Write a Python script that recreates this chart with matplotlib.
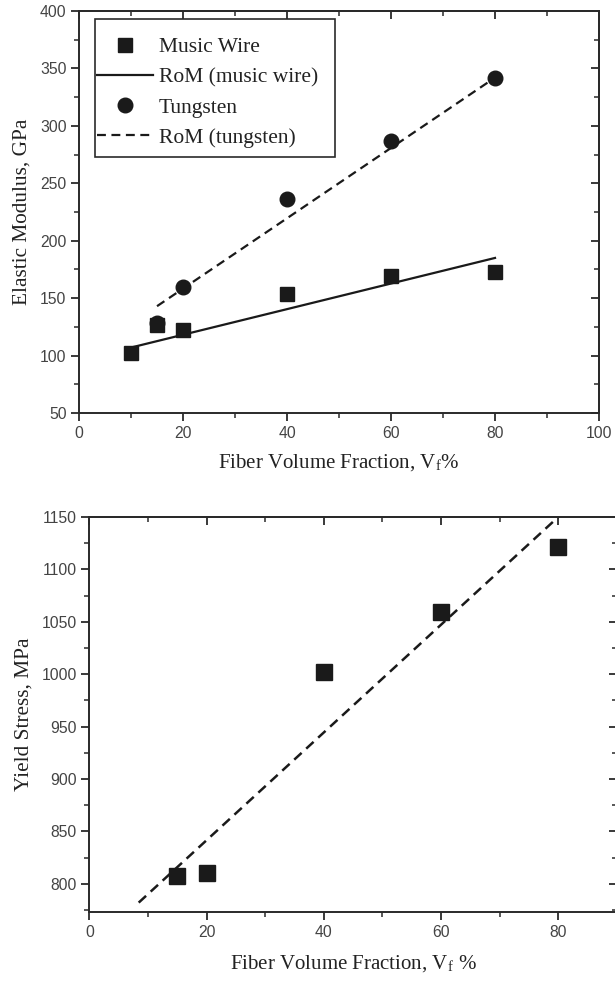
import matplotlib
matplotlib.use("Agg")
import matplotlib.pyplot as plt
from matplotlib.patches import Rectangle
from matplotlib.ticker import MultipleLocator

plt.rcParams['font.family'] = ['Liberation Serif', 'DejaVu Serif']
plt.rcParams['mathtext.fontset'] = 'stix'

# top panel: elastic modulus
vf_wire = [10, 15, 20, 40, 60, 80]
e_wire = [102, 127, 122, 154, 169, 173]
vf_w = [15, 20, 40, 60, 80]
e_w = [128, 160, 236, 287, 342]
rom_wire_x = [10, 80]
rom_wire_y = [107, 185]
rom_w_x = [15, 80]
rom_w_y = [143, 342]

# bottom panel: yield stress
vf_ys = [15, 20, 40, 60, 80]
ys = [807, 810, 1002, 1059, 1121]
rom_ys_x = [8.4, 80]
rom_ys_y = [782, 1150]

ink = '#1a1a1a'
tick_font = dict(family='Liberation Sans', size=11.3, color='#444444')


def style_axes(ax, xmaj, xmin, ymaj, ymin):
    for s in ax.spines.values():
        s.set_linewidth(1.4)
        s.set_color('#2a2a2a')
    ax.xaxis.set_major_locator(MultipleLocator(xmaj))
    ax.xaxis.set_minor_locator(MultipleLocator(xmin))
    ax.yaxis.set_major_locator(MultipleLocator(ymaj))
    ax.yaxis.set_minor_locator(MultipleLocator(ymin))
    ax.tick_params(which='major', direction='out', length=6, width=1.3, color='#2a2a2a', pad=3)
    ax.tick_params(which='minor', direction='out', length=3.5, width=1.1, color='#2a2a2a')
    for lab in ax.get_xticklabels() + ax.get_yticklabels():
        lab.set_fontfamily(tick_font['family'])
        lab.set_fontsize(tick_font['size'])
        lab.set_color(tick_font['color'])
    # mirrored inward ticks on top and right
    top = ax.secondary_xaxis('top')
    right = ax.secondary_yaxis('right')
    top.xaxis.set_major_locator(MultipleLocator(xmaj))
    top.xaxis.set_minor_locator(MultipleLocator(xmin))
    right.yaxis.set_major_locator(MultipleLocator(ymaj))
    right.yaxis.set_minor_locator(MultipleLocator(ymin))
    for sec in (top, right):
        sec.tick_params(which='major', direction='in', length=6, width=1.3, color='#2a2a2a')
        sec.tick_params(which='minor', direction='in', length=3.5, width=1.1, color='#2a2a2a')
        sec.tick_params(labeltop=False, labelright=False)
        for s in sec.spines.values():
            s.set_linewidth(1.4)
            s.set_color('#2a2a2a')


fig = plt.figure(figsize=(6.15, 9.81), dpi=100)

ax1 = fig.add_axes([0.1285, 0.579, 0.8455, 0.4098])
ax1.plot(rom_wire_x, rom_wire_y, '-', color=ink, lw=1.6, label='RoM (music wire)')
ax1.plot(rom_w_x, rom_w_y, '--', color=ink, lw=1.6, dashes=(4, 2.5), label='RoM (tungsten)')
ax1.plot(vf_wire, e_wire, 's', color=ink, ms=9.5, ls='none', label='Music Wire')
ax1.plot(vf_w, e_w, 'o', color=ink, ms=10.5, ls='none', label='Tungsten')
ax1.set_xlim(0, 100)
ax1.set_ylim(50, 400)
style_axes(ax1, 20, 10, 50, 25)
ax1.set_xlabel('Fiber Volume Fraction, V$_\\mathregular{f}$%', fontsize=15, color='#222222', labelpad=8)
ax1.set_ylabel('Elastic Modulus, GPa', fontsize=15.3, color='#222222', labelpad=6)

# legend without its own frame; the box is drawn separately
h, l = ax1.get_legend_handles_labels()
order = [2, 0, 3, 1]
leg = ax1.legend([h[i] for i in order], [l[i] for i in order], loc='upper left',
                 bbox_to_anchor=(0.034, 0.935), fontsize=15.5, frameon=False,
                 handlelength=2.6, handletextpad=0.28,
                 borderpad=0, labelspacing=0.47, borderaxespad=0)
for t in leg.get_texts():
    t.set_color('#222222')
ax1.add_patch(Rectangle((0.0308, 0.637), 0.461, 0.343, transform=ax1.transAxes,
                        fill=False, edgecolor='#2a2a2a', lw=1.2, zorder=4))

ax2 = fig.add_axes([0.1455, 0.0703, 0.8575, 0.4027])
ax2.plot(rom_ys_x, rom_ys_y, '--', color=ink, lw=1.8, dashes=(4, 2.5))
ax2.plot(vf_ys, ys, 's', color=ink, ms=11, ls='none')
ax2.set_xlim(0, 90)
ax2.set_ylim(773, 1150)
style_axes(ax2, 20, 10, 50, 25)
ax2.set_xlabel('Fiber Volume Fraction, V$_\\mathregular{f}$ %', fontsize=15, color='#222222', labelpad=10)
ax2.set_ylabel('Yield Stress, MPa', fontsize=15.3, color='#222222', labelpad=6)

fig.savefig('out.png', dpi=100)
